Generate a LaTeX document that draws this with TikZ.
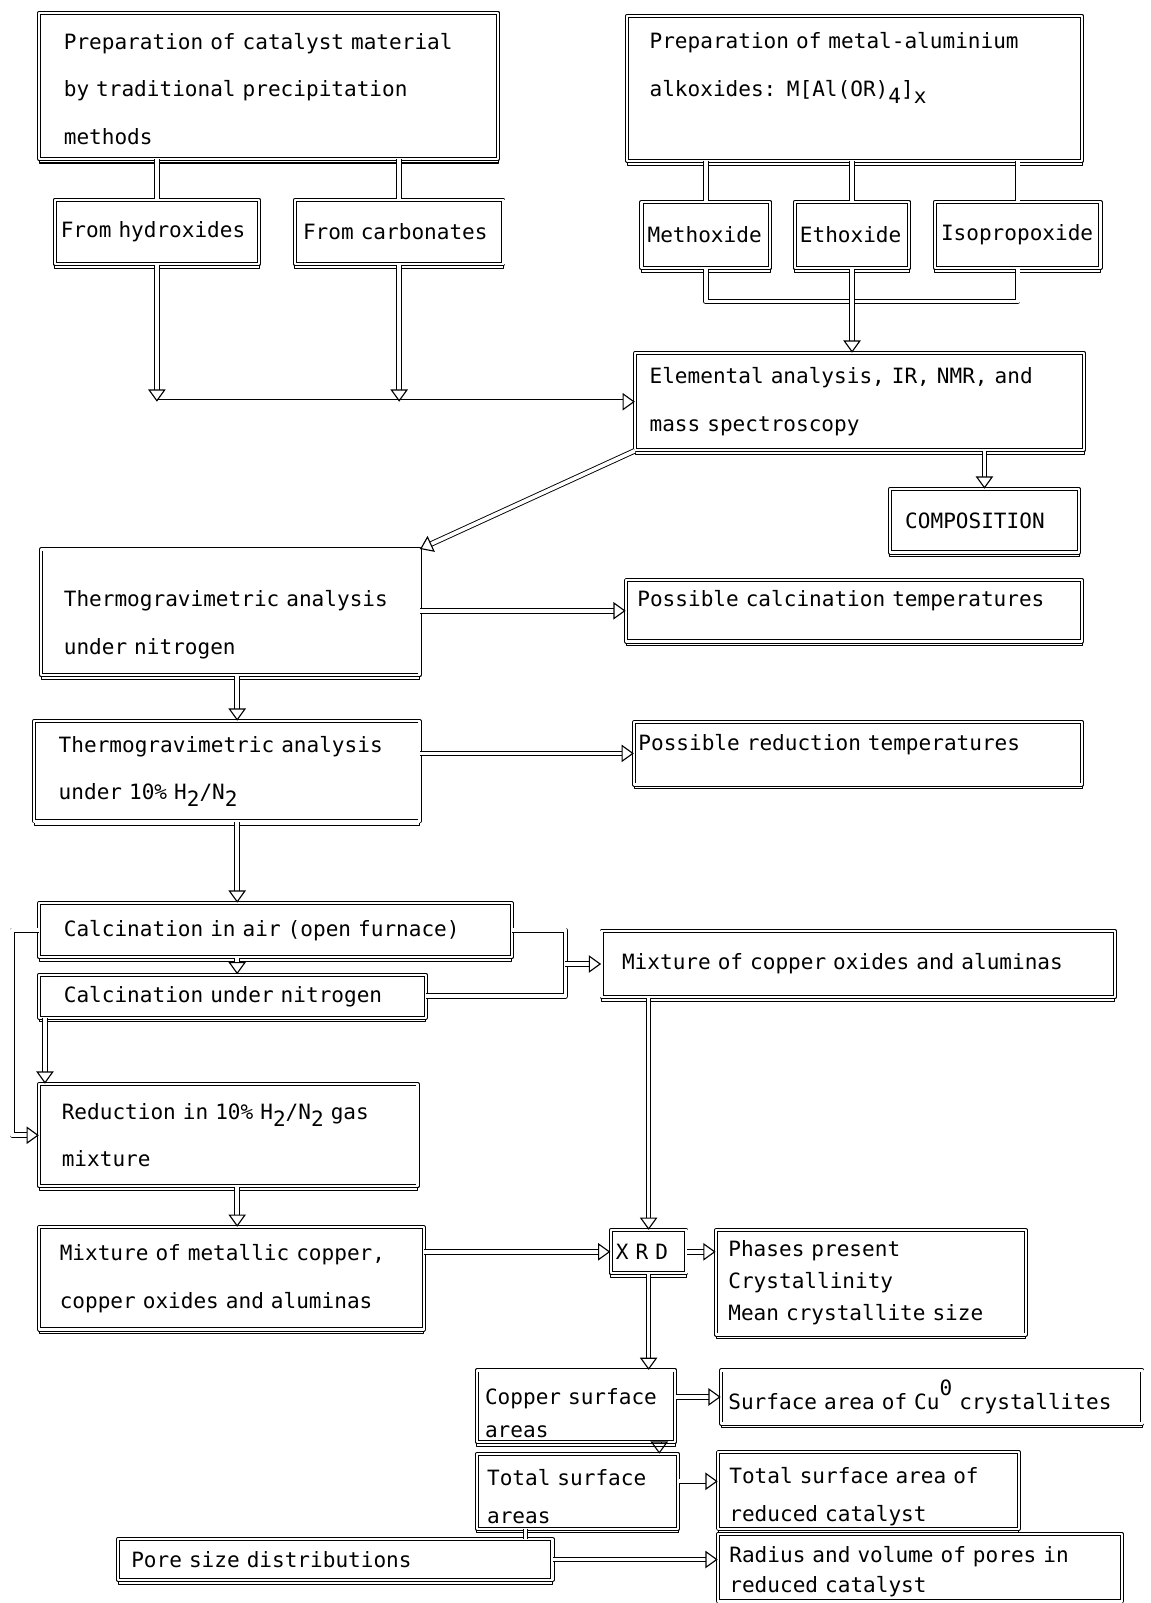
\documentclass[tikz,border=0pt]{standalone}
\usepackage{fontspec}
\setmainfont{DejaVu Sans Mono}
\usetikzlibrary{arrows.meta}
\newcommand{\lo}[1]{\raisebox{-0.6ex}{#1}}
\newcommand{\hi}[1]{\raisebox{1.2ex}{#1}}
\tikzset{
  blk/.style={draw,double,double distance=1.1pt,line width=0.45pt,fill=white,anchor=north west,align=left,inner ysep=0pt,
    preaction={draw,line width=0.5pt,transform canvas={yshift=-2pt}}},
  pipe/.style={double,double distance=1.8pt,line width=0.45pt},
  flow/.style={pipe,-{Triangle[open,length=6pt,width=8.5pt,line width=0.55pt]}},
}

\begin{document}
\begin{tikzpicture}[x=0.5pt,y=-0.5pt,font=\fontsize{10.3}{23.3}\selectfont,line join=round]
\useasboundingbox (0,0) rectangle (1125,1568);
\coordinate (spine) at (232,0);
\coordinate (loopx) at (12,0);
\coordinate (jn) at (553,0);
\coordinate (busy) at (0,295);
% boxes
\node[blk,inner xsep=12pt,text width=200.5pt,minimum height=71.5pt] (prepA) at (38,12) {\rule{0pt}{11pt}Preparation of catalyst material\\by traditional precipitation\\methods};
\node[blk,inner xsep=11pt,text width=200.5pt,minimum height=71pt] (prepB) at (613,15) {Preparation of metal-aluminium\\alkoxides: M[Al(OR)\lo{4}]\lo{x}\\\mbox{}};
\node[blk,inner xsep=3pt,text width=94pt,minimum height=31.5pt] (hyd) at (53,195) {From hydroxides};
\node[blk,inner xsep=4pt,text width=94pt,minimum height=31.5pt] (carb) at (288,195) {From carbonates};
\node[blk,inner xsep=3pt,text width=57pt,minimum height=32.5pt] (meth) at (627,197) {Methoxide};
\node[blk,inner xsep=2.5pt,text width=51pt,minimum height=32.5pt] (eth) at (777,197) {Ethoxide};
\node[blk,inner xsep=3pt,text width=75pt,minimum height=32.5pt] (iso) at (914,197) {Isopropoxide};
\node[blk,inner xsep=7pt,text width=205.5pt,minimum height=47.5pt] (elem) at (621,345) {Elemental analysis, IR, NMR, and\\mass spectroscopy};
\node[blk,inner xsep=7.5pt,text width=77.5pt,minimum height=31pt] (comp) at (870,478) {COMPOSITION};
\node[blk,inner xsep=11pt,text width=163pt,minimum height=61.5pt] (tga1) at (40,537) {\rule{0pt}{20pt}Thermogravimetric analysis\\under nitrogen};
\node[blk,inner xsep=5.5pt,text width=212pt,minimum height=30pt] (calT) at (612,567) {Possible calcination temperatures\rule[-12pt]{0pt}{12pt}};
\node[blk,inner xsep=12pt,text width=164.5pt,minimum height=49pt] (tga2) at (33,705) {Thermogravimetric analysis\\under 10\% H\lo{2}/N\lo{2}};
\node[blk,inner xsep=2pt,text width=215pt,minimum height=30.5pt] (redT) at (620,706) {Possible reduction temperatures\rule[-11pt]{0pt}{11pt}};
\node[blk,inner xsep=12pt,text width=207pt,minimum height=26.5pt] (calair) at (38,883) {Calcination in air (open furnace)};
\node[blk,inner xsep=12pt,text width=165pt,minimum height=21pt] (caln) at (38,953) {Calcination under nitrogen};
\node[blk,inner xsep=10pt,text width=231pt,minimum height=32.5pt] (mixox) at (588,910) {Mixture of copper oxides and aluminas};
\node[blk,inner xsep=11pt,text width=163pt,minimum height=50pt] (red) at (38,1060) {Reduction in 10\% H\lo{2}/N\lo{2} gas\\mixture};
\node[blk,inner xsep=10pt,text width=168pt,minimum height=50pt] (mixmet) at (38,1200) {Mixture of metallic copper,\\copper oxides and aluminas};
\node[blk,inner xsep=2.5pt,text width=32pt,minimum height=21pt] (xrd) at (597,1203) {X R D};
\node[blk,inner xsep=6pt,text width=139.5pt,minimum height=51pt,font=\fontsize{10.3}{15.75}\selectfont] (phases) at (700,1203) {Phases present\\Crystallinity\\Mean crystallite size};
\node[blk,inner xsep=4pt,text width=89pt,minimum height=35pt,font=\fontsize{10.3}{16}\selectfont] (cusa) at (466,1340) {\rule{0pt}{15pt}Copper surface\\areas};
\node[blk,inner xsep=3.5pt,text width=199pt,minimum height=26pt] (sacu) at (705,1340) {Surface area of Cu\hi{0} crystallites};
\node[blk,inner xsep=5pt,text width=88.5pt,minimum height=36.5pt,font=\fontsize{10.3}{18.5}\selectfont] (tsa) at (466,1422) {\rule{0pt}{12.8pt}Total surface\\areas};
\node[blk,inner xsep=5.5pt,text width=136pt,minimum height=37.5pt,font=\fontsize{10.3}{18.5}\selectfont] (tsacat) at (702,1420) {\rule{0pt}{13.8pt}Total surface area of\\reduced catalyst};
\node[blk,inner xsep=6.5pt,text width=199.5pt,minimum height=20pt] (pore) at (115,1505) {Pore size distributions};
\node[blk,inner xsep=5.5pt,text width=186.5pt,minimum height=33pt,font=\fontsize{10.3}{15}\selectfont] (radius) at (702,1500) {\rule{0pt}{11.8pt}Radius and volume of pores in\\reduced catalyst};
% connectors
\draw[pipe] (hyd.north |- prepA.south) -- (hyd.north);
\draw[pipe] (carb.north |- prepA.south) -- (carb.north);
\draw[pipe] (meth.north |- prepB.south) -- (meth.north);
\draw[pipe] (eth.north |- prepB.south) -- (eth.north);
\draw[pipe] (iso.north |- prepB.south) -- (iso.north);
\draw[pipe] (meth.south) -- (meth.south |- busy) -- (iso.south |- busy) -- (iso.south);
\draw[flow] (eth.south) -- (eth.south |- elem.north);
\draw[flow] (hyd.south |- elem.west) -- (elem.west);
\draw[flow] (hyd.south) -- (hyd.south |- elem.west);
\draw[flow] (carb.south) -- (carb.south |- elem.west);
\draw[flow] (elem.south west) -- (tga1.north east);
\draw[flow] (comp.north |- elem.south) -- (comp.north);
\draw[flow] (tga1.east |- calT.west) -- (calT.west);
\draw[flow] (tga1.south -| spine) -- (tga2.north -| spine);
\draw[flow] (tga2.east |- redT.west) -- (redT.west);
\draw[flow] (tga2.south -| spine) -- (calair.north -| spine);
\draw[flow] (calair.south -| spine) -- (caln.north -| spine);
\draw[pipe] (calair.east) -| (jn |- caln.east) -- (caln.east);
\draw[flow] (jn |- mixox.west) -- (mixox.west);
\draw[flow] (calair.west) -- (loopx |- calair.west) -- (loopx |- red.west) -- (red.west);
\draw[flow] ([xshift=3pt]caln.south west) -- ([xshift=3pt]red.north west);
\draw[flow] (red.south -| spine) -- (mixmet.north -| spine);
\draw[flow] (mixmet.east |- xrd.west) -- (xrd.west);
\draw[flow] (xrd.north |- mixox.south) -- (xrd.north);
\draw[flow] (xrd.east) -- (phases.west |- xrd.east);
\draw[flow] (xrd.south) -- (xrd.south |- cusa.north);
\draw[flow] (cusa.east |- sacu.west) -- (sacu.west);
\draw[flow] ([xshift=-8pt]cusa.south east) -- ([xshift=-8pt]cusa.south east |- tsa.north);
\draw[flow] ([yshift=5pt]tsa.east) -- ([yshift=5pt]tsa.east -| tsacat.west);
\draw[pipe] ([xshift=24pt]tsa.south west) -- ([xshift=24pt]tsa.south west |- pore.north);
\draw[flow] (pore.east) -- (pore.east -| radius.west);
\end{tikzpicture}
\end{document}
